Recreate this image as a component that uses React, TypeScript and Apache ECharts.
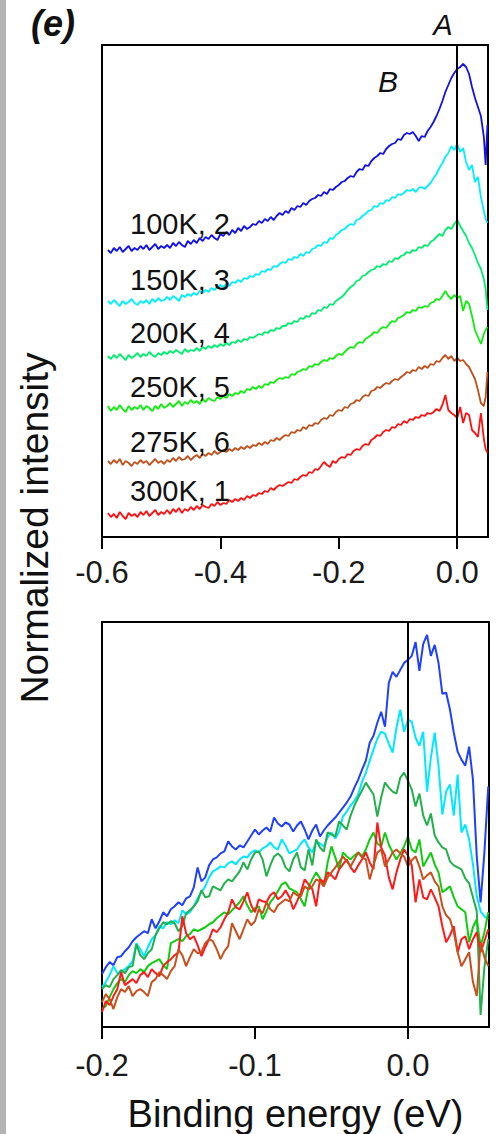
import React, { useEffect, useRef } from "react";
import * as echarts from "echarts";

// ---------- DATA ----------
const topX = [
  -0.59, -0.585, -0.58, -0.575, -0.57, -0.565, -0.56, -0.555, -0.55, -0.545,
  -0.54, -0.535, -0.53, -0.525, -0.52, -0.515, -0.51, -0.505, -0.5, -0.495,
  -0.49, -0.485, -0.48, -0.475, -0.47, -0.465, -0.46, -0.455, -0.45, -0.445,
  -0.44, -0.435, -0.43, -0.425, -0.42, -0.415, -0.41, -0.405, -0.4, -0.395,
  -0.39, -0.385, -0.38, -0.375, -0.37, -0.365, -0.36, -0.355, -0.35, -0.345,
  -0.34, -0.335, -0.33, -0.325, -0.32, -0.315, -0.31, -0.305, -0.3, -0.295,
  -0.29, -0.285, -0.28, -0.275, -0.27, -0.265, -0.26, -0.255, -0.25, -0.245,
  -0.24, -0.235, -0.23, -0.225, -0.22, -0.215, -0.21, -0.205, -0.2, -0.195,
  -0.19, -0.185, -0.18, -0.175, -0.17, -0.165, -0.16, -0.155, -0.15, -0.145,
  -0.14, -0.135, -0.13, -0.125, -0.12, -0.115, -0.11, -0.105, -0.1, -0.095,
  -0.09, -0.085, -0.08, -0.075, -0.07, -0.065, -0.06, -0.055, -0.05, -0.045,
  -0.04, -0.035, -0.03, -0.025, -0.02, -0.015, -0.01, -0.005, 0, 0.005,
  0.01, 0.015, 0.02, 0.025, 0.03, 0.035, 0.04, 0.045, 0.048, 0.051,
];

const top100K = [
  287, 284, 289, 286, 290, 285, 288, 291, 286, 289,
  287, 291, 288, 292, 287, 290, 293, 288, 291, 289,
  292, 289, 294, 291, 295, 292, 290, 296, 293, 297,
  294, 299, 296, 300, 298, 302, 299, 297, 303, 301,
  305, 302, 307, 304, 309, 306, 311, 308, 310, 313,
  312, 316, 314, 318, 316, 320, 317, 321, 324, 322,
  326, 324, 329, 327, 331, 330, 334, 332, 336, 338,
  339, 342, 341, 345, 343, 348, 347, 350, 352, 355,
  356, 359, 361, 360, 365, 368, 367, 372, 371, 376,
  379, 381, 384, 383, 388, 391, 393, 394, 398, 397,
  402, 404, 403, 405, 401, 396, 401, 400, 406, 410,
  415, 421, 428, 436, 445, 452, 459, 464, 468, 470,
  473, 470, 463, 450, 439, 430, 421, 400, 372, 412,
];
const top150K = [
  236, 233, 237, 234, 231, 236, 233, 235, 238, 234,
  232, 236, 234, 237, 233, 238, 235, 239, 236, 237,
  240, 237, 241, 239, 236, 242, 240, 243, 241, 244,
  242, 246, 244, 247, 245, 249, 247, 250, 252, 250,
  253, 251, 255, 254, 257, 255, 259, 258, 261, 260,
  263, 262, 266, 265, 268, 267, 271, 270, 273, 275,
  274, 278, 277, 280, 279, 283, 281, 285, 284, 288,
  289, 292, 291, 295, 294, 299, 298, 302, 304, 307,
  308, 311, 313, 312, 317, 318, 321, 323, 326, 327,
  331, 330, 334, 333, 337, 336, 340, 339, 343, 342,
  344, 347, 346, 348, 345, 349, 350, 348, 351, 354,
  359, 363, 369, 374, 380, 384, 391, 387, 393, 385,
  389, 375, 367, 372, 355, 360, 340, 326, 318, 314,
];
const top200K = [
  181, 178, 182, 179, 183, 180, 177, 182, 179, 181,
  184, 180, 183, 181, 185, 182, 180, 184, 182, 185,
  183, 186, 184, 187, 185, 183, 188, 185, 187, 186,
  189, 186, 190, 188, 191, 189, 192, 190, 193, 191,
  194, 192, 195, 194, 197, 195, 198, 197, 200, 199,
  201, 203, 202, 205, 204, 207, 206, 209, 208, 211,
  211, 214, 213, 216, 215, 219, 218, 221, 220, 224,
  223, 227, 226, 230, 229, 233, 232, 236, 238, 240,
  243, 247, 250, 252, 256, 257, 261, 262, 265, 267,
  268, 271, 270, 273, 272, 276, 275, 279, 278, 281,
  282, 285, 284, 287, 286, 290, 289, 292, 291, 295,
  297, 300, 303, 301, 307, 310, 308, 313, 317, 311,
  306, 301, 294, 289, 282, 274, 268, 258, 248, 227,
];
const top250K = [
  131, 126, 130, 127, 132, 128, 125, 131, 127, 130,
  128, 132, 127, 131, 129, 126, 131, 128, 133, 129,
  131, 134, 130, 133, 136, 131, 135, 133, 137, 134,
  136, 133, 138, 135, 139, 137, 136, 140, 138, 141,
  139, 143, 141, 144, 143, 146, 144, 148, 147, 150,
  148, 151, 149, 153, 152, 155, 154, 157, 159, 158,
  160, 159, 163, 162, 165, 166, 168, 167, 171, 170,
  173, 172, 175, 177, 176, 179, 178, 181, 183, 182,
  185, 188, 190, 189, 193, 195, 194, 198, 200, 202,
  205, 204, 208, 210, 209, 213, 216, 215, 219, 220,
  222, 225, 224, 227, 226, 230, 229, 231, 230, 234,
  235, 238, 237, 241, 246, 241, 238, 242, 239, 241,
  226, 236, 233, 221, 207, 200, 193, 203, 207, 210,
];
const top275K = [
  76, 73, 77, 74, 78, 72, 76, 74, 71, 75,
  73, 77, 74, 76, 72, 75, 78, 74, 76, 73,
  77, 75, 79, 76, 80, 77, 78, 81, 77, 80,
  82, 79, 83, 81, 84, 82, 86, 83, 85, 87,
  85, 88, 86, 89, 87, 90, 88, 91, 89, 92,
  91, 94, 92, 95, 93, 97, 96, 99, 97, 100,
  102, 101, 105, 104, 107, 106, 110, 108, 112, 111,
  114, 113, 117, 119, 118, 122, 121, 125, 127, 126,
  130, 129, 133, 134, 137, 136, 140, 142, 141, 146,
  147, 150, 149, 152, 154, 153, 156, 158, 157, 160,
  162, 165, 164, 167, 166, 170, 168, 171, 169, 173,
  172, 176, 175, 179, 182, 178, 181, 176, 179, 176,
  177, 173, 170, 164, 158, 147, 134, 131, 140, 165,
];
const top300K = [
  24, 20, 23, 19, 25, 21, 18, 24, 21, 23,
  20, 25, 22, 26, 21, 24, 27, 22, 25, 23,
  27, 23, 28, 25, 29, 24, 28, 26, 30, 27,
  31, 28, 32, 30, 29, 33, 31, 35, 32, 34,
  33, 37, 35, 38, 36, 39, 37, 41, 39, 42,
  41, 44, 43, 46, 45, 49, 47, 50, 52, 51,
  53, 55, 54, 58, 57, 60, 62, 61, 65, 64,
  68, 67, 71, 75, 72, 70, 76, 74, 78, 80,
  79, 83, 82, 86, 88, 87, 91, 93, 92, 97,
  99, 102, 101, 105, 107, 106, 110, 109, 113, 112,
  116, 114, 118, 117, 120, 119, 122, 121, 124, 123,
  125, 128, 126, 132, 142, 127, 124, 122, 119, 130,
  114, 124, 122, 107, 104, 100, 124, 98, 88, 84,
];

const bottomX = [
  -0.2, -0.1975, -0.195, -0.1925, -0.19, -0.1875, -0.185, -0.1825, -0.18, -0.1775,
  -0.175, -0.1725, -0.17, -0.1675, -0.165, -0.1625, -0.16, -0.1575, -0.155, -0.1525,
  -0.15, -0.1475, -0.145, -0.1425, -0.14, -0.1375, -0.135, -0.1325, -0.13, -0.1275,
  -0.125, -0.1225, -0.12, -0.1175, -0.115, -0.1125, -0.11, -0.1075, -0.105, -0.1025,
  -0.1, -0.0975, -0.095, -0.0925, -0.09, -0.0875, -0.085, -0.0825, -0.08, -0.0775,
  -0.075, -0.0725, -0.07, -0.0675, -0.065, -0.0625, -0.06, -0.0575, -0.055, -0.0525,
  -0.05, -0.0475, -0.045, -0.0425, -0.04, -0.0375, -0.035, -0.0325, -0.03, -0.0275,
  -0.025, -0.0225, -0.02, -0.0175, -0.015, -0.0125, -0.01, -0.0075, -0.005, -0.0025,
  0, 0.0025, 0.005, 0.0075, 0.01, 0.0125, 0.015, 0.0175, 0.02, 0.0225,
  0.025, 0.0275, 0.03, 0.0325, 0.035, 0.0375, 0.04, 0.0425, 0.045, 0.0475,
  0.05, 0.0525,
];

const bot100K = [
  53, 60, 65, 62, 70, 71, 76, 80, 86, 90,
  93, 96, 94, 108, 99, 106, 115, 111, 118, 121,
  125, 122, 129, 131, 140, 160, 146, 150, 162, 168,
  170, 174, 176, 186, 181, 178, 182, 180, 186, 192,
  198, 193, 197, 200, 196, 210, 204, 201, 205, 203,
  196, 202, 206, 198, 188, 197, 203, 191, 197, 202,
  206, 210, 215, 220, 225, 231, 240, 248, 258, 267,
  285, 292, 305, 316, 301, 345, 356, 351, 358, 365,
  368, 372, 386, 357, 384, 393, 372, 383, 365, 334,
  335, 318, 295, 276, 268, 262, 281, 248, 171, 125,
  175, 241,
];
const bot150K = [
  40, 45, 52, 61, 54, 55, 58, 61, 66, 84,
  78, 71, 80, 88, 92, 101, 99, 105, 103, 107,
  104, 117, 113, 115, 121, 129, 135, 141, 150, 156,
  158, 161, 160, 164, 166, 163, 168, 171, 170, 175,
  177, 175, 179, 181, 185, 180, 178, 188, 182, 174,
  176, 178, 184, 188, 180, 175, 186, 184, 181, 190,
  195, 189, 196, 211, 216, 222, 227, 233, 246, 255,
  267, 278, 289, 296, 294, 284, 275, 300, 318, 296,
  308, 306, 290, 282, 296, 236, 270, 295, 262, 213,
  236, 243, 212, 253, 195, 203, 188, 163, 131, 116,
  111, 108,
];
const bot200K = [
  38, 42, 40, 48, 52, 57, 54, 60, 61, 83,
  72, 68, 74, 78, 92, 99, 105, 103, 106, 104,
  96, 101, 114, 117, 121, 126, 137, 130, 131, 141,
  139, 137, 144, 148, 146, 151, 156, 165, 158, 168,
  175, 176, 168, 151, 162, 171, 174, 170, 160, 156,
  168, 175, 160, 157, 178, 162, 188, 180, 176, 195,
  193, 191, 206, 202, 198, 212, 222, 230, 237, 245,
  239, 233, 211, 230, 245, 240, 236, 234, 250, 255,
  247, 238, 221, 234, 212, 202, 214, 192, 185, 180,
  178, 166, 162, 160, 158, 149, 144, 130, 116, 12,
  60, 88,
];
const bot250K = [
  18, 21, 30, 38, 44, 48, 45, 52, 56, 54,
  58, 55, 61, 64, 66, 68, 62, 58, 84, 86,
  88, 86, 91, 93, 98, 96, 98, 100, 103, 105,
  109, 112, 115, 113, 117, 121, 125, 131, 122, 115,
  119, 121, 108, 116, 125, 130, 136, 143, 145, 139,
  137, 135, 128, 121, 140, 148, 155, 149, 141, 165,
  181, 170, 158, 175, 171, 168, 172, 175, 171, 178,
  188, 195, 184, 181, 195, 183, 175, 168, 174, 181,
  191, 178, 175, 188, 161, 168, 175, 163, 155, 135,
  138, 141, 130, 121, 118, 115, 85, 100, 108, 81,
  95, 115,
];
const bot300K = [
  15, 26, 22, 31, 38, 55, 42, 45, 48, 44,
  52, 55, 50, 58, 54, 51, 61, 65, 68, 72,
  75, 111, 94, 88, 91, 82, 71, 80, 88, 98,
  95, 100, 108, 115, 128, 120, 118, 126, 135, 122,
  115, 128, 126, 125, 132, 135, 128, 131, 137, 130,
  118, 126, 135, 148, 143, 138, 121, 148, 145, 155,
  152, 148, 158, 163, 168, 160, 155, 162, 168, 175,
  165, 158, 205, 180, 172, 150, 138, 155, 168, 178,
  172, 162, 125, 148, 130, 128, 138, 130, 121, 101,
  85, 92, 101, 75, 88, 91, 78, 88, 95, 75,
  86, 98,
];
const bot275K = [
  25, 33, 28, 18, 30, 38, 35, 41, 31, 36,
  38, 35, 31, 45, 48, 55, 52, 48, 56, 61,
  78, 72, 61, 70, 78, 74, 75, 84, 88, 86,
  78, 68, 76, 81, 104, 96, 88, 98, 108, 102,
  106, 118, 114, 125, 118, 115, 122, 125, 128, 126,
  135, 132, 131, 141, 138, 141, 148, 146, 141, 150,
  155, 160, 165, 171, 166, 161, 168, 175, 170, 168,
  148, 162, 175, 178, 161, 168, 175, 178, 174, 171,
  161, 167, 171, 161, 148, 152, 155, 146, 141, 121,
  112, 108, 95, 75, 61, 68, 75, 45, 31, 85,
  70, 61,
];

const tempLabels = ["100K, 2", "150K, 3", "200K, 4", "250K, 5", "275K, 6", "300K, 1"];
const topTicks = [-0.6, -0.4, -0.2, 0.0];
const bottomTicks = [-0.2, -0.1, 0.0];
const xTitle = "Binding energy (eV)";
const yTitle = "Normalized intensity";
const panelLetter = "(e)";
const peakLabels = ["A", "B"];

// ---------- STYLE ----------
const FONT = '"Liberation Sans", Arial, sans-serif';
const topColors = ["#1010ee", "#00eeff", "#00ee70", "#10ee10", "#c0501c", "#ff1010"];
const botColors = ["#2040ff", "#00e8ff", "#22b04c", "#10cc10", "#ff1a1a", "#c8501c"];

const fmt = (v: number) => {
  const r = Math.round(v * 10) / 10;
  if (Math.abs(v - r) > 1e-6) return "";
  return Math.abs(r) < 1e-9 ? "0.0" : r.toFixed(1);
};

const zeroLine = {
  silent: true,
  symbol: ["none", "none"],
  label: { show: false },
  lineStyle: { color: "#000", width: 2, type: "solid" },
  emphasis: { disabled: true },
  data: [{ xAxis: 0 }],
};

function makeSeries(
  xs: number[],
  ys: number[],
  color: string,
  name: string,
  idx: number,
  width: number,
  withLine: boolean
) {
  const s: any = {
    type: "line",
    name,
    xAxisIndex: idx,
    yAxisIndex: idx,
    data: ys.map((y, i) => [xs[i], y]),
    showSymbol: false,
    symbol: "none",
    lineStyle: { color, width },
    itemStyle: { color },
    emphasis: { disabled: true },
    silent: true,
  };
  if (withLine) s.markLine = zeroLine;
  return s;
}

export default function App() {
  const ref = useRef<HTMLDivElement>(null);

  useEffect(() => {
    if (!ref.current) return;
    const chart = echarts.init(ref.current, null, { renderer: "svg" });

    const topData = [top100K, top150K, top200K, top250K, top275K, top300K];
    const botData = [bot100K, bot150K, bot200K, bot250K, bot300K, bot275K];
    const botCols = [botColors[0], botColors[1], botColors[2], botColors[3], botColors[4], botColors[5]];
    const botNames = ["100K", "150K", "200K", "250K", "300K", "275K"];

    const series: any[] = [];
    topData.forEach((d, i) =>
      series.push(makeSeries(topX, d, topColors[i], tempLabels[i], 0, 1.8, i === 0))
    );
    botData.forEach((d, i) =>
      series.push(makeSeries(bottomX, d, botCols[i], botNames[i], 1, 2, i === 0))
    );

    const labelYs = [224, 280, 333, 387, 442, 491];

    const axisCommon = (ticks: number[], margin: number) => ({
      type: "value",
      axisLine: { show: true, onZero: false, lineStyle: { color: "#000", width: 2 } },
      axisTick: {
        show: true,
        inside: false,
        length: 12,
        customValues: ticks,
        lineStyle: { color: "#000", width: 2 },
      },
      axisLabel: {
        customValues: ticks,
        formatter: fmt,
        fontSize: 31,
        fontFamily: FONT,
        color: "#1a1a1a",
        margin,
      },
      splitLine: { show: false },
    });

    chart.setOption({
      animation: false,
      backgroundColor: "#ffffff",
      grid: [
        { left: 102, right: 8, top: 45, bottom: 597, show: true, borderColor: "#000", borderWidth: 2, backgroundColor: "transparent" },
        { left: 102, right: 7, top: 622, bottom: 106, show: true, borderColor: "#000", borderWidth: 2, backgroundColor: "transparent" },
      ],
      xAxis: [
        { ...axisCommon(topTicks, 20), gridIndex: 0, min: -0.6, max: 0.052 },
        {
          ...axisCommon(bottomTicks, 23),
          gridIndex: 1,
          min: -0.2,
          max: 0.053,
          name: xTitle,
          nameLocation: "middle",
          nameGap: 68,
          nameTextStyle: { fontSize: 38, fontFamily: FONT, color: "#111" },
        },
      ],
      yAxis: [
        { type: "value", gridIndex: 0, min: 0, max: 492, show: false },
        { type: "value", gridIndex: 1, min: 0, max: 406, show: false },
      ],
      series,
      graphic: {
        elements: [
          {
            type: "rect",
            z: 100,
            shape: { x: 0, y: 0, width: 6, height: 1134 },
            style: { fill: "#b4b4b4" },
            silent: true,
          },
          {
            type: "text",
            z: 100,
            x: 31,
            y: 23,
            style: {
              text: panelLetter,
              font: `italic bold 36px ${FONT}`,
              fill: "#111",
              align: "left",
              verticalAlign: "middle",
              textAlign: "left",
              textVerticalAlign: "middle",
            },
          },
          {
            type: "text",
            z: 100,
            x: 443,
            y: 25,
            style: {
              text: peakLabels[0],
              font: `italic 29px ${FONT}`,
              fill: "#111",
              align: "center",
              verticalAlign: "middle",
              textAlign: "center",
              textVerticalAlign: "middle",
            },
          },
          {
            type: "text",
            z: 100,
            x: 388,
            y: 81,
            style: {
              text: peakLabels[1],
              font: `italic 30px ${FONT}`,
              fill: "#111",
              align: "center",
              verticalAlign: "middle",
              textAlign: "center",
              textVerticalAlign: "middle",
            },
          },
          ...tempLabels.map((t, i) => ({
            type: "text",
            z: 100,
            x: 130,
            y: labelYs[i],
            style: {
              text: t,
              font: `29px ${FONT}`,
              fill: "#111",
              align: "left",
              verticalAlign: "middle",
              textAlign: "left",
              textVerticalAlign: "middle",
            },
          })),
          {
            type: "text",
            z: 100,
            x: 34,
            y: 528,
            rotation: Math.PI / 2,
            style: {
              text: yTitle,
              font: `39px ${FONT}`,
              fill: "#111",
              align: "center",
              verticalAlign: "middle",
              textAlign: "center",
              textVerticalAlign: "middle",
            },
          },
        ],
      },
    });

    return () => chart.dispose();
  }, []);

  return (
    <div
      ref={ref}
      style={{ position: "absolute", left: 0, top: 0, width: 496, height: 1134 }}
    />
  );
}
